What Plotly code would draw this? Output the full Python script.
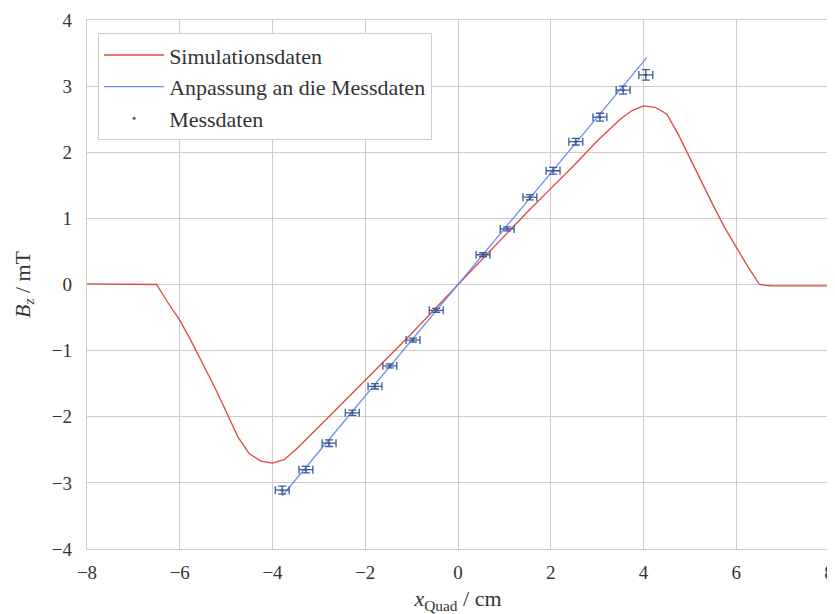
import plotly.graph_objects as go

# Simulation data (red curve)
sim_x = [-8.0, -7.0, -6.75, -6.5, -6.25, -6.0, -5.75, -5.5, -5.25, -5.0, -4.75, -4.5, -4.25, -4.0,
         -3.75, -3.5, -3.25, -3.0, -2.5, -2.0, -1.5, -1.0, -0.5, 0.0, 0.5, 1.0, 1.5, 2.0, 2.5,
         3.0, 3.25, 3.5, 3.75, 4.0, 4.25, 4.5, 4.75, 5.0, 5.25, 5.5, 5.75, 6.0, 6.25, 6.5, 6.75,
         7.0, 8.0]
sim_y = [0.01, 0.01, 0.01, 0.0, -0.28, -0.54, -0.86, -1.2, -1.55, -1.92, -2.3, -2.56, -2.67, -2.70,
         -2.65, -2.5, -2.32, -2.15, -1.80, -1.45, -1.10, -0.74, -0.37, 0.0, 0.37, 0.74, 1.10, 1.45, 1.80,
         2.17, 2.34, 2.50, 2.63, 2.70, 2.68, 2.58, 2.27, 1.91, 1.55, 1.2, 0.86, 0.56, 0.27, 0.0, -0.02,
         -0.02, -0.02]

# Measured data
meas_x = [-3.79, -3.28, -2.78, -2.28, -1.79, -1.47, -0.97, -0.47, 0.54, 1.06, 1.55, 2.05, 2.54, 3.06, 3.56, 4.05]
meas_y = [-3.11, -2.80, -2.40, -1.94, -1.54, -1.23, -0.84, -0.39, 0.45, 0.84, 1.32, 1.72, 2.16, 2.53, 2.94, 3.17]
meas_xerr = [0.15] * 16
meas_yerr = [0.06, 0.05, 0.05, 0.04, 0.04, 0.03, 0.03, 0.03, 0.03, 0.03, 0.04, 0.05, 0.05, 0.06, 0.06, 0.08]

# Linear fit
fit_x = [-3.79, 4.07]
fit_slope = 0.843
fit_intercept = 0.0
fit_y = [fit_slope * v + fit_intercept for v in fit_x]

x_ticks = [-8, -6, -4, -2, 0, 2, 4, 6, 8]
y_ticks = [-4, -3, -2, -1, 0, 1, 2, 3, 4]

FONT = "Liberation Serif"
RED = "#e0473c"
BLUE = "#6a8ef5"
DARK = "#3b5a9a"
TXT = "#333333"

fig = go.Figure()
fig.add_trace(go.Scatter(x=sim_x, y=sim_y, mode="lines", name="Simulationsdaten",
                         line=dict(color=RED, width=1.3)))
fig.add_trace(go.Scatter(x=fit_x, y=fit_y, mode="lines", name="Anpassung an die Messdaten",
                         line=dict(color=BLUE, width=1.3)))
fig.add_trace(go.Scatter(x=meas_x, y=meas_y, mode="markers", name="Messdaten",
                         marker=dict(color=DARK, size=3),
                         error_x=dict(type="data", array=meas_xerr, color=DARK, thickness=1.3, width=4),
                         error_y=dict(type="data", array=meas_yerr, color=DARK, thickness=1.3, width=4)))

axis_common = dict(showgrid=True, gridcolor="#cccccc", gridwidth=1.3, showline=True,
                   linecolor="#cccccc", linewidth=1.3, mirror=True, zeroline=False,
                   ticks="", automargin=False,
                   tickfont=dict(family=FONT, size=19, color=TXT))

fig.update_layout(
    width=827, height=606,
    margin=dict(l=79, r=6, t=12, b=65),
    paper_bgcolor="white", plot_bgcolor="white",
    font=dict(family=FONT, color=TXT),
    showlegend=True,
    legend=dict(x=0.015, y=0.975, xanchor="left", yanchor="top",
                bgcolor="white", bordercolor="#cccccc", borderwidth=1,
                font=dict(family=FONT, size=22, color=TXT),
                tracegroupgap=0, itemwidth=60),
    xaxis=dict(range=[-8, 8], tickvals=x_ticks, ticklabelstandoff=6,
               title=dict(text="<i>x</i><sub>Quad</sub> / cm", font=dict(family=FONT, size=22, color=TXT)),
               **axis_common),
    yaxis=dict(range=[-4, 4], tickvals=y_ticks, ticklabelstandoff=10,
               title=dict(text="<i>B</i><sub><i>z</i></sub> / mT", font=dict(family=FONT, size=22, color=TXT)),
               **axis_common),
)

fig.write_html("out.html")
